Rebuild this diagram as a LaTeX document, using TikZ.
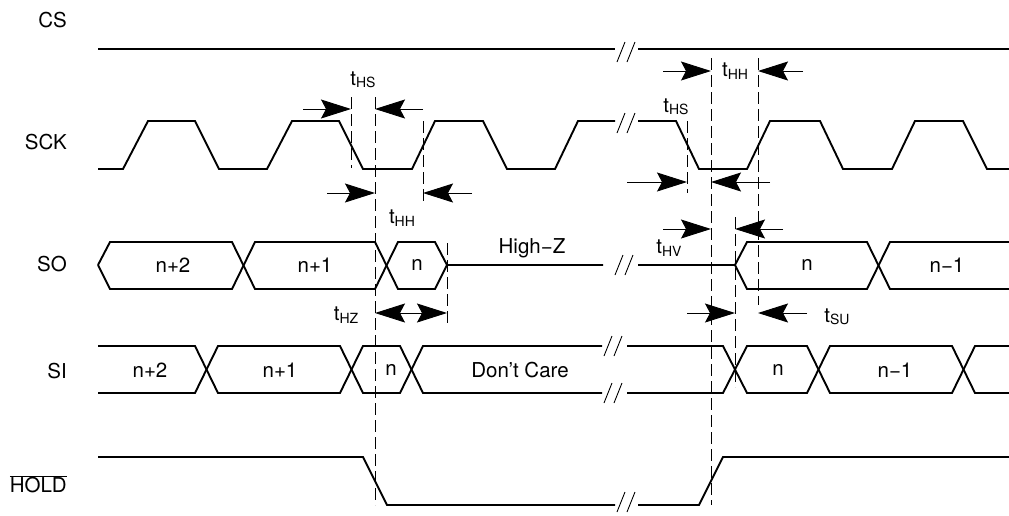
\documentclass[tikz,border=0pt]{standalone}
\usepackage{fontspec}
\setmainfont{TeX Gyre Heros}
\usetikzlibrary{arrows.meta}
\newcommand\tsub[1]{t\raisebox{-2.5pt}{\fontsize{14}{14}\selectfont #1}}
\tikzset{
  sig/.style={line width=1.9pt, line join=miter},
  guide/.style={line width=0.9pt, dash pattern=on 12pt off 5pt},
  slash/.style={line width=0.9pt},
  tm/.style={line width=0.9pt, -{Stealth[length=30pt,width=19pt,inset=5pt]}},
  tmb/.style={line width=0.9pt, {Stealth[length=30pt,width=19pt,inset=5pt]}-{Stealth[length=30pt,width=19pt,inset=5pt]}},
  lbl/.style={font=\fontsize{20.5}{24}\selectfont, inner sep=0pt},
  sname/.style={lbl, anchor=east},
  brk/.pic={\draw[slash] (0,10)--(8,-10) (10,10)--(18,-10);}
}
\begin{document}
\begin{tikzpicture}[x=1pt,y=-1pt]
\useasboundingbox (0,0) rectangle (1009,515);
% signal names
\node[sname] (cs) at (67,20) {CS};
\node[sname] (sck) at (67,142) {SCK};
\node[sname] (so) at (67,264) {SO};
\node[sname] (si) at (67,371) {SI};
\node[sname] (hold) at (67,484) {$\overline{\hbox{HOLD}}$};
% CS
\draw[sig] (98,49) -- (615,49) (638,49) -- (1009,49);
\pic at (617,52) {brk};
% SCK
\draw[sig] (98,169) -- (123,169) -- (148,121) -- (195,121) -- (219,169) -- (267,169) -- (292,121) -- (339,121) -- (363,169) -- (412,169) -- (435,121) -- (483,121) -- (507,169) -- (555,169) -- (578,121) -- (615,121);
\draw[sig] (638,121) -- (676,121) -- (699,169) -- (747,169) -- (770,121) -- (820,121) -- (843,169) -- (892,169) -- (915,121) -- (963,121) -- (987,169) -- (1009,169);
\pic at (617,123) {brk};
% SO
\draw[sig] (98,265) -- (110,242) -- (232,242) -- (255,289) -- (375,289) -- (398,242) -- (435,242) -- (447,265) -- (603,265);
\draw[sig] (98,265) -- (110,289) -- (232,289) -- (255,242) -- (375,242) -- (398,289) -- (435,289) -- (447,265);
\draw[sig] (638,265) -- (735,265) -- (747,242) -- (867,242) -- (890,289) -- (1009,289);
\draw[sig] (735,265) -- (747,289) -- (867,289) -- (890,242) -- (1009,242);
\pic at (615,265) {brk};
% SI
\draw[sig] (98,346) -- (195,346) -- (218,393) -- (340,393) -- (363,346) -- (400,346) -- (423,393) -- (602,393);
\draw[sig] (98,393) -- (195,393) -- (218,346) -- (340,346) -- (363,393) -- (400,393) -- (423,346) -- (602,346);
\draw[sig] (627,346) -- (723,346) -- (747,393) -- (807,393) -- (830,346) -- (952,346) -- (975,393) -- (1009,393);
\draw[sig] (627,393) -- (723,393) -- (747,346) -- (807,346) -- (830,393) -- (952,393) -- (975,346) -- (1009,346);
\pic at (604,346) {brk};
\pic at (604,393) {brk};
% HOLD
\draw[sig] (98,457) -- (363,457) -- (387,505) -- (615,505) (638,505) -- (699,505) -- (723,457) -- (1009,457);
\pic at (617,502) {brk};
% bus labels
\node[lbl] (so1) at (173,265) {n+2};
\node[lbl] (so2) at (315,265) {n+1};
\node[lbl] (so3) at (417,265) {n};
\node[lbl] (soz) at (532,248) {High−Z};
\node[lbl] (so4) at (807,265) {n};
\node[lbl] (so5) at (947,265) {n−1};
\node[lbl] (si1) at (150,370) {n+2};
\node[lbl] (si2) at (280,370) {n+1};
\node[lbl] (si3) at (391,370) {n};
\node[lbl] (si4) at (520,370) {Don’t Care};
\node[lbl] (si5) at (778,370) {n};
\node[lbl] (si6) at (895,370) {n−1};
% guide lines
\draw[guide] (351,97) -- (351,168);
\draw[guide] (375,97) -- (375,505);
\draw[guide] (423,121) -- (423,204);
\draw[guide] (447,243) -- (447,323);
\draw[guide] (687,121) -- (687,193);
\draw[guide] (711,58) -- (711,505);
\draw[guide] (735,217) -- (735,387);
\draw[guide] (758,58) -- (758,305);
% timing arrows
\draw[tm] (303,109) -- (351,109);
\draw[tm] (423,109) -- (375,109);
\draw[tm] (327,193) -- (375,193);
\draw[tm] (472,193) -- (423,193);
\draw[tmb] (375,313) -- (447,313);
\draw[tm] (663,71) -- (711,71);
\draw[tm] (803,71) -- (758,71);
\draw[tm] (627,182) -- (687,182);
\draw[tm] (770,182) -- (711,182);
\draw[tm] (663,229) -- (711,229);
\draw[tm] (783,229) -- (735,229);
\draw[tm] (687,313) -- (735,313);
\draw[tm] (807,313) -- (758,313);
% timing labels
\node[lbl] (ths1) at (363,80) {\tsub{HS}};
\node[lbl] (thh1) at (402,218) {\tsub{HH}};
\node[lbl] (thz) at (346,315) {\tsub{HZ}};
\node[lbl] (thh2) at (735,71) {\tsub{HH}};
\node[lbl] (ths2) at (676,107) {\tsub{HS}};
\node[lbl] (thv) at (669,248) {\tsub{HV}};
\node[lbl] (tsu) at (837,317) {\tsub{SU}};
\end{tikzpicture}
\end{document}
